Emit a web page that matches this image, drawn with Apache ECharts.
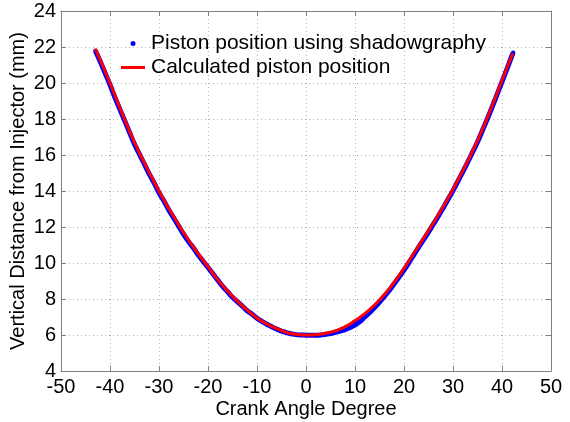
<!DOCTYPE html>
<html>
<head>
<meta charset="utf-8">
<script src="https://cdn.jsdelivr.net/npm/echarts@6/dist/echarts.min.js"></script>
<style>html,body{margin:0;padding:0;background:#fff}#c{width:570px;height:422px}</style>
</head>
<body>
<div id="c"></div>
<script>
// Calculated piston position (red line)
var calcX = [-43, -42.5, -40, -37.5, -35, -32.5, -30, -27.5, -25, -22.5, -20, -17.5, -15, -12.5, -10, -7.5, -5, -2.5, 0, 2.5, 5, 7.5, 10, 12.5, 15, 17.5, 20, 22.5, 25, 27.5, 30, 32.5, 35, 37.5, 40, 42.2];
var calcY = [21.9, 21.6, 20.0, 18.3, 16.7, 15.3, 14.0, 12.8, 11.7, 10.7, 9.8, 8.9, 8.15, 7.5, 6.95, 6.55, 6.25, 6.05, 6.0, 6.03, 6.15, 6.4, 6.8, 7.3, 7.95, 8.75, 9.7, 10.75, 11.8, 12.9, 14.1, 15.4, 16.8, 18.4, 20.15, 21.65];
// Shadowgraphy measurements (blue dots)
var shadowX = [-43, -42, -41, -40, -39, -38, -37, -36, -35, -34, -33, -32, -31, -30, -29, -28, -27, -26, -25, -24, -23, -22, -21, -20, -19, -18, -17, -16, -15, -14, -13, -12, -11, -10, -9, -8, -7, -6, -5, -4, -3, -2, -1, 0, 1, 2, 3, 4, 5, 6, 7, 8, 9, 10, 11, 12, 13, 14, 15, 16, 17, 18, 19, 20, 21, 22, 23, 24, 25, 26, 27, 28, 29, 30, 31, 32, 33, 34, 35, 36, 37, 38, 39, 40, 41, 42, 42.3];
var shadowY = [21.8, 21.2, 20.55, 19.9, 19.2, 18.55, 17.9, 17.25, 16.6, 16.05, 15.5, 14.95, 14.45, 13.9, 13.45, 12.95, 12.5, 12.05, 11.6, 11.2, 10.85, 10.45, 10.1, 9.75, 9.4, 9.05, 8.7, 8.4, 8.1, 7.85, 7.6, 7.35, 7.15, 6.93, 6.76, 6.6, 6.46, 6.33, 6.22, 6.13, 6.07, 6.02, 6.0, 5.99, 5.98, 5.99, 6.0, 6.04, 6.08, 6.15, 6.22, 6.3, 6.42, 6.56, 6.75, 7.0, 7.25, 7.52, 7.82, 8.15, 8.48, 8.85, 9.22, 9.6, 10.02, 10.45, 10.88, 11.3, 11.72, 12.16, 12.6, 13.06, 13.54, 14.02, 14.54, 15.06, 15.6, 16.16, 16.72, 17.36, 18.0, 18.67, 19.37, 20.07, 20.77, 21.5, 21.7];
var seriesNames = ['Piston position using shadowgraphy', 'Calculated piston position'];
var xTitle = 'Crank Angle Degree';
var yTitle = 'Vertical Distance from Injector (mm)';

function zip(a, b) { return a.map(function (v, i) { return [v, b[i]]; }); }

var font = 'Liberation Sans, Arial, sans-serif';
var axisColor = '#808080';
var gridLine = { show: true, lineStyle: { color: '#b4b4b4', type: [1, 3], width: 1 } };

var chart = echarts.init(document.getElementById('c'));
chart.setOption({
  animation: false,
  backgroundColor: '#fff',
  grid: { left: 61, right: 19, top: 11, bottom: 51, containLabel: false, outerBoundsMode: 'none' },
  legend: {
    orient: 'vertical', left: 114, top: 28, itemWidth: 26, itemHeight: 5, itemGap: 3,
    textStyle: { fontFamily: font, fontSize: 21, color: '#000' },
    data: [
      { name: seriesNames[0], icon: 'circle', itemStyle: { color: '#0000ff', borderWidth: 0 } },
      { name: seriesNames[1], icon: 'rect', itemStyle: { color: '#ff0000', borderColor: '#ffffff', borderWidth: 2 } }
    ]
  },
  xAxis: [{
    type: 'value', min: -50, max: 50, interval: 10,
    name: xTitle, nameLocation: 'middle', nameGap: 28, nameMoveOverlap: false,
    nameTextStyle: { fontFamily: font, fontSize: 20, color: '#000' },
    axisLine: { show: true, onZero: false, lineStyle: { color: axisColor } },
    axisTick: { show: true, inside: true, length: 5, lineStyle: { color: axisColor } },
    axisLabel: { fontFamily: font, fontSize: 20, color: '#000', margin: 6 },
    splitLine: gridLine
  }, {
    type: 'value', position: 'top', min: -50, max: 50, interval: 10,
    axisLine: { show: true, onZero: false, lineStyle: { color: axisColor } },
    axisTick: { show: true, inside: true, length: 5, lineStyle: { color: axisColor } },
    axisLabel: { show: false }, splitLine: { show: false }
  }],
  yAxis: [{
    type: 'value', min: 4, max: 24, interval: 2,
    name: yTitle, nameLocation: 'middle', nameGap: 33, nameRotate: 90, nameMoveOverlap: false,
    nameTextStyle: { fontFamily: font, fontSize: 20, color: '#000' },
    axisLine: { show: true, onZero: false, lineStyle: { color: axisColor } },
    axisTick: { show: true, inside: true, length: 5, lineStyle: { color: axisColor } },
    axisLabel: { fontFamily: font, fontSize: 20, color: '#000', margin: 5 },
    splitLine: gridLine
  }, {
    type: 'value', position: 'right', min: 4, max: 24, interval: 2,
    axisLine: { show: true, onZero: false, lineStyle: { color: axisColor } },
    axisTick: { show: true, inside: true, length: 5, lineStyle: { color: axisColor } },
    axisLabel: { show: false }, splitLine: { show: false }
  }],
  series: [{
    name: seriesNames[0], type: 'line', data: zip(shadowX, shadowY),
    smooth: true, symbol: 'circle', symbolSize: 4, showSymbol: true,
    itemStyle: { color: '#0000ff' },
    lineStyle: { color: '#0000ff', width: 5 }, z: 2
  }, {
    name: seriesNames[1], type: 'line', data: zip(calcX, calcY),
    smooth: true, showSymbol: false, symbol: 'none',
    itemStyle: { color: '#ff0000' },
    lineStyle: { color: '#ff0000', width: 3 }, z: 3
  }]
});
</script>
</body>
</html>
